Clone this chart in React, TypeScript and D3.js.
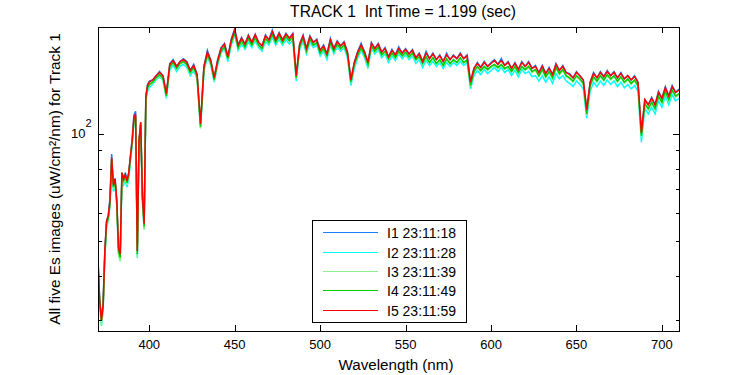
import React from "react";
import * as d3 from "d3";

const wavelengths = [
  370,371,372,373,374,375,376,377,378,379,380,381,382,383,384,385,386,387,388,389,390,391,392,393,394,395,396,397,398,399,400,
  402,404,406,408,410,412,414,416,418,420,
  422,424,426,428,430,432,434,436,438,440,
  442,444,446,448,450,452,454,456,458,460,
  462,464,466,468,470,472,474,476,478,480,
  482,484,486,488,490,492,494,496,498,500,
  502,504,506,508,510,512,514,516,518,520,
  522,524,526,528,530,532,534,536,538,540,
  542,544,546,548,550,552,554,556,558,560,
  562,564,566,568,570,572,574,576,578,580,
  582,584,586,588,590,592,594,596,598,600,
  602,604,606,608,610,612,614,616,618,620,
  622,624,626,628,630,632,634,636,638,640,
  642,644,646,648,650,652,654,656,658,660,
  662,664,666,668,670,672,674,676,678,680,
  682,684,686,688,690,692,694,696,698,700,
  702,704,706,708,710,
];

const i1Values = [
  45,34,30,34,47,57,59,66,88,72,75,65,48,46,78,75,78,74,78,87,97,113,116,47,96,108,67,56,128,138,141,
  142,146,150,146,130,158,162,155,160,163,
  160,151,157,147,107,155,172,161,144,162,
  175,180,165,185,198,178,187,179,190,181,
  191,181,177,190,184,196,184,193,184,192,
  186,192,146,179,190,174,189,181,185,172,
  178,168,186,174,183,177,182,170,142,159,
  171,180,170,159,181,174,180,170,175,165,
  173,167,176,169,174,168,173,164,169,160,
  171,163,169,162,167,160,169,162,167,163,
  169,163,167,140,153,159,154,160,155,159,
  162,157,163,156,160,153,159,152,160,155,
  160,153,156,149,156,148,154,147,158,151,
  156,149,148,144,150,146,142,117,140,149,
  144,150,145,151,146,150,144,149,143,146,
  142,146,140,101,125,121,127,121,132,126,
  136,128,137,131,134,
];

const i2Values = [
  42,33,29,32,45,55,57,63,83,69,72,63,46,44,75,72,74,71,75,84,93,107,110,45,93,104,65,54,124,132,135,
  138,142,145,142,126,152,156,150,155,157,
  154,146,151,143,104,150,165,156,140,156,
  169,174,160,178,190,172,179,173,182,175,
  183,175,171,182,178,187,178,185,178,184,
  179,184,141,173,182,168,181,175,178,166,
  171,162,178,168,176,171,175,164,137,153,
  164,172,164,153,174,168,173,164,168,159,
  166,161,168,163,167,162,166,158,162,154,
  161,156,160,155,159,153,159,155,159,156,
  160,156,159,134,146,151,147,152,148,151,
  154,150,154,149,152,146,151,145,152,148,
  150,145,146,141,146,140,145,139,148,143,
  146,141,139,136,141,138,134,111,132,140,
  136,141,137,142,138,141,136,140,135,138,
  134,137,132,95,118,114,119,114,124,119,
  128,121,129,124,126,
];

const i3Values = [
  42,33,29,32,45,55,57,63,84,70,73,63,46,44,76,73,75,72,76,85,94,108,111,45,94,105,65,54,125,134,137,
  139,143,146,143,127,154,158,152,157,159,
  156,148,153,144,104,152,166,158,141,158,
  170,175,162,180,192,174,182,175,185,177,
  186,177,173,185,180,190,180,188,180,187,
  182,187,143,175,185,170,184,177,180,168,
  173,165,180,170,178,173,177,166,139,156,
  166,174,166,156,176,170,175,166,170,162,
  168,163,170,165,169,164,168,161,164,157,
  164,158,163,157,161,155,162,157,161,158,
  163,158,161,136,149,154,150,154,151,154,
  156,153,156,152,154,149,154,148,154,151,
  154,149,151,145,151,144,149,143,153,147,
  151,145,143,140,145,142,138,113,136,144,
  140,145,141,146,142,145,140,144,139,142,
  138,141,136,98,121,117,122,117,127,122,
  131,124,132,127,129,
];

const i4Values = [
  43,34,30,33,46,56,58,64,85,71,74,64,47,45,77,74,76,73,77,86,95,109,112,46,95,106,66,55,126,135,138,
  140,144,147,144,128,155,159,153,158,160,
  157,149,154,145,105,153,167,159,142,159,
  171,176,163,181,193,175,183,176,186,178,
  187,178,174,186,181,191,181,189,181,188,
  183,188,144,176,186,171,185,178,181,169,
  174,166,181,171,179,174,178,167,140,157,
  167,175,167,157,177,171,176,167,171,163,
  169,164,171,166,170,165,169,162,165,158,
  165,159,164,158,162,156,163,158,162,159,
  164,159,162,137,150,155,151,155,152,155,
  157,154,157,153,155,150,155,149,155,152,
  155,150,152,146,152,145,150,144,154,148,
  152,146,144,141,146,143,139,114,137,145,
  141,146,142,147,143,146,141,145,140,143,
  139,142,137,99,122,118,123,118,128,123,
  132,125,133,128,130,
];

const i5Values = [
  44,34,30,33,47,57,59,65,86,72,75,65,48,46,78,75,77,74,78,87,96,111,114,47,96,108,67,56,128,137,140,
  142,146,149,146,130,157,161,155,160,162,
  159,151,156,147,107,155,170,161,144,161,
  174,179,165,184,196,178,186,179,189,181,
  190,181,177,189,184,194,184,192,184,191,
  186,191,146,179,189,174,188,181,184,172,
  177,168,184,174,182,177,181,170,142,159,
  170,178,170,159,180,174,179,170,174,165,
  172,167,174,169,173,168,172,164,168,160,
  169,163,168,162,166,160,167,162,166,163,
  168,163,166,140,153,158,154,159,155,158,
  161,157,161,156,159,153,158,152,159,155,
  159,153,155,149,155,148,153,147,157,151,
  155,149,147,144,149,146,142,117,140,148,
  144,149,145,150,146,149,144,148,143,146,
  142,145,140,101,125,121,126,121,131,126,
  135,128,136,131,133,
];

const seriesNames = ["I1 23:11:18", "I2 23:11:28", "I3 23:11:39", "I4 23:11:49", "I5 23:11:59"];
const seriesColors = ["#1a80ff", "#00ffff", "#90ee90", "#00cc00", "#ff0000"];
const xTicks = [400, 450, 500, 550, 600, 650, 700];
const yMajorTicks = [100];
const yMinorTicks = [30, 40, 50, 60, 70, 80, 90];

const titleText = "TRACK 1  Int Time = 1.199 (sec)";
const xLabel = "Wavelength (nm)";
const yLabel = "All five Es images (uW/cm\u00b2/nm) for Track 1";

const W = 750;
const H = 375;
const L = 98;
const R = 679;
const T = 27;
const B = 331;
const FONT = "'Liberation Sans', Arial, Helvetica, sans-serif";
const LEGEND_ROWS = [232, 252, 271, 290, 310];

export default function App() {
  const x = d3.scaleLinear().domain([370, 710]).range([L, R]);
  const y = d3.scaleLog().domain([28, 200]).range([B, T]);
  const allSeries = [i1Values, i2Values, i3Values, i4Values, i5Values];
  const line = d3
    .line<number>()
    .x((_, i) => x(wavelengths[i]))
    .y((d) => y(d));

  const legendX = 312.5;
  const legendY = 220.5;
  const legendW = 154;
  const legendH = 102;

  return (
    <svg
      width={W}
      height={H}
      style={{ position: "absolute", left: 0, top: 0, background: "#fff" }}
      fontFamily={FONT}
    >
      <rect x={0} y={0} width={W} height={H} fill="#fff" />
      <defs>
        <clipPath id="plotclip">
          <rect x={L} y={T} width={R - L} height={B - T} />
        </clipPath>
      </defs>
      <g clipPath="url(#plotclip)">
        {allSeries.map((vals, si) => (
          <path
            key={si}
            d={line(vals) || ""}
            fill="none"
            stroke={seriesColors[si]}
            strokeWidth={1.5}
            strokeLinejoin="miter"
          />
        ))}
      </g>
      <rect
        x={L + 0.5}
        y={T + 0.5}
        width={R - L}
        height={B - T}
        fill="none"
        stroke="#000"
        strokeWidth={1}
        shapeRendering="crispEdges"
      />
      {xTicks.map((t) => (
        <g key={t} shapeRendering="crispEdges">
          <line x1={Math.round(x(t)) + 0.5} x2={Math.round(x(t)) + 0.5} y1={B} y2={B - 6} stroke="#000" />
          <line x1={Math.round(x(t)) + 0.5} x2={Math.round(x(t)) + 0.5} y1={T} y2={T + 6} stroke="#000" />
          <text x={x(t)} y={349.3} fontSize={13} textAnchor="middle" fill="#000">
            {t}
          </text>
        </g>
      ))}
      {yMajorTicks.map((t) => (
        <g key={t} shapeRendering="crispEdges">
          <line x1={L} x2={L + 6} y1={Math.round(y(t)) + 0.5} y2={Math.round(y(t)) + 0.5} stroke="#000" />
          <line x1={R} x2={R - 6} y1={Math.round(y(t)) + 0.5} y2={Math.round(y(t)) + 0.5} stroke="#000" />
        </g>
      ))}
      {yMinorTicks.map((t) => (
        <g key={t} shapeRendering="crispEdges">
          <line x1={L} x2={L + 3.5} y1={Math.round(y(t)) + 0.5} y2={Math.round(y(t)) + 0.5} stroke="#000" />
          <line x1={R} x2={R - 3.5} y1={Math.round(y(t)) + 0.5} y2={Math.round(y(t)) + 0.5} stroke="#000" />
        </g>
      ))}
      <text x={85.5} y={y(100) + 3.8} fontSize={13} textAnchor="end" fill="#000">
        10
      </text>
      <text x={85.5} y={y(100) - 7.3} fontSize={11} textAnchor="start" fill="#000">
        2
      </text>
      <text x={403} y={17.3} fontSize={15.6} textAnchor="middle" fill="#000" style={{ whiteSpace: "pre" }}>
        {titleText}
      </text>
      <text x={396} y={369.5} fontSize={15.2} textAnchor="middle" fill="#000">
        {xLabel}
      </text>
      <text
        transform={`translate(60,${(T + B) / 2}) rotate(-90)`}
        fontSize={15.4}
        textAnchor="middle"
        fill="#000"
      >
        {yLabel}
      </text>
      <rect
        x={legendX}
        y={legendY}
        width={legendW}
        height={legendH}
        fill="#fff"
        stroke="#000"
        strokeWidth={1}
        shapeRendering="crispEdges"
      />
      {seriesNames.map((name, i) => (
        <g key={name}>
          <rect x={323} y={LEGEND_ROWS[i]} width={55} height={1} fill={seriesColors[i]} />
          <text x={387} y={LEGEND_ROWS[i] + 5.8} fontSize={14} fill="#000">
            {name}
          </text>
        </g>
      ))}
    </svg>
  );
}
